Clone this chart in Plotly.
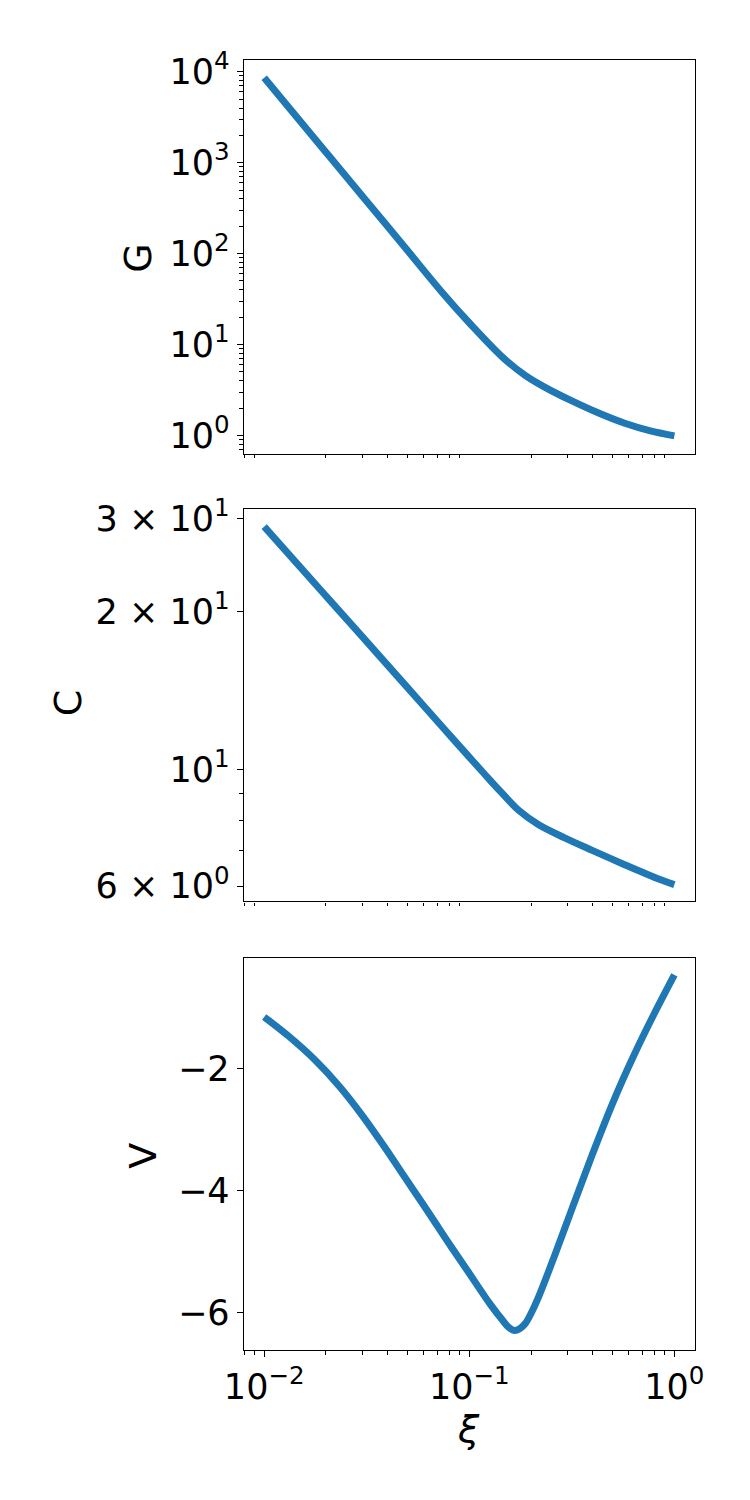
import plotly.graph_objects as go

# ---- data ----
xi_G = [0.01, 0.02, 0.03, 0.05, 0.0734, 0.102, 0.146, 0.188, 0.233, 0.311, 0.43, 0.573, 0.764, 1.0]
G = [8610, 1306, 434, 108, 37.9, 16.5, 7.18, 4.55, 3.40, 2.44, 1.75, 1.36, 1.12, 0.99]

xi_C = [0.01, 0.02, 0.03, 0.05, 0.0753, 0.1, 0.118, 0.141, 0.175, 0.217, 0.29, 0.40, 0.572, 0.82, 1.0]
C = [29.0, 21.4, 17.93, 14.32, 11.96, 10.56, 9.83, 9.11, 8.35, 7.86, 7.42, 7.01, 6.59, 6.21, 6.04]

xi_V = [0.01, 0.0132, 0.0176, 0.0234, 0.0301, 0.0387, 0.048, 0.0596, 0.0689, 0.0822,
        0.0986, 0.1267, 0.146, 0.156, 0.166, 0.176, 0.188, 0.200, 0.217, 0.26,
        0.316, 0.398, 0.501, 0.631, 0.794, 1.0]
V = [-1.15, -1.47, -1.85, -2.30, -2.77, -3.29, -3.76, -4.23, -4.55, -4.94,
     -5.33, -5.87, -6.14, -6.25, -6.30, -6.27, -6.18, -6.02, -5.76, -5.08,
     -4.31, -3.41, -2.56, -1.80, -1.11, -0.46]

# ---- tick labels ----
x_major = [0.01, 0.1, 1]
x_major_text = ["10<sup>−2</sup>", "10<sup>−1</sup>", "10<sup>0</sup>"]
x_minor = [0.008, 0.009] + [k * 0.01 for k in range(2, 10)] + [k * 0.1 for k in range(2, 10)]

G_major = [1, 10, 100, 1000, 10000]
G_major_text = ["10<sup>0</sup>", "10<sup>1</sup>", "10<sup>2</sup>", "10<sup>3</sup>", "10<sup>4</sup>"]
G_minor = [0.7, 0.8, 0.9] + [k * d for d in (1, 10, 100, 1000) for k in range(2, 10)]

C_major = [6, 10, 20, 30]
C_major_text = ["6 × 10<sup>0</sup>", "10<sup>1</sup>", "2 × 10<sup>1</sup>", "3 × 10<sup>1</sup>"]
C_minor = [7, 8, 9]

V_major = [-6, -4, -2]
V_major_text = ["−6", "−4", "−2"]

W, H = 750, 1500
BLUE = "#1f77b4"
FONT = "DejaVu Sans"
TICKFONT = dict(family=FONT, size=35, color="black")
LW = 1.25

fig = go.Figure()
for xs, ys, xa, ya_ in ((xi_G, G, "x", "y"), (xi_C, C, "x2", "y2"), (xi_V, V, "x3", "y3")):
    fig.add_trace(go.Scatter(x=xs, y=ys, mode="lines", xaxis=xa, yaxis=ya_,
                             line=dict(color=BLUE, width=7, shape="spline", smoothing=0.9),
                             showlegend=False, hoverinfo="skip"))

xdom = [233 / W, 703 / W]
def ydom(top, bot):
    return [1 - bot / H, 1 - top / H]

minor_x = dict(tickmode="array", tickvals=x_minor, ticks="outside", ticklen=3.5,
               tickwidth=1, tickcolor="black")

common_axis = dict(showline=True, linecolor="black", linewidth=LW, mirror=True,
                   showgrid=False, zeroline=False, tickfont=TICKFONT,
                   tickcolor="black", tickwidth=LW, ticklen=6, fixedrange=True)

def xaxis(anchor, labels):
    d = dict(common_axis)
    d.update(domain=xdom, anchor=anchor, type="log", range=[-2.1, 0.1],
             minor=minor_x)
    if labels:
        d.update(tickmode="array", tickvals=x_major, ticktext=x_major_text,
                 ticks="outside", showticklabels=True)
    else:
        d.update(tickmode="array", tickvals=x_major, ticks="", showticklabels=False)
    return d

layout = dict(
    width=W, height=H,
    margin=dict(l=0, r=0, t=0, b=0),
    paper_bgcolor="white", plot_bgcolor="white",
    font=dict(family=FONT, color="black"),
    xaxis=xaxis("y", False),
    xaxis2=xaxis("y2", False),
    xaxis3=xaxis("y3", True),
)

ya = dict(common_axis)
ya.update(domain=ydom(45, 444), anchor="x", type="log", range=[-0.202, 4.126],
          tickmode="array", tickvals=G_major, ticktext=G_major_text, ticks="outside",
          minor=dict(tickmode="array", tickvals=G_minor, ticks="outside", ticklen=3.5,
                     tickwidth=1, tickcolor="black"))
layout["yaxis"] = ya

ya2 = dict(common_axis)
ya2.update(domain=ydom(500, 898), anchor="x2", type="log", range=[0.749, 1.496],
           tickmode="array", tickvals=C_major, ticktext=C_major_text, ticks="outside",
           minor=dict(tickmode="array", tickvals=C_minor, ticks="outside", ticklen=3.5,
                      tickwidth=1, tickcolor="black"))
layout["yaxis2"] = ya2

ya3 = dict(common_axis)
ya3.update(domain=ydom(955, 1353), anchor="x3", range=[-6.62, -0.176],
           tickmode="array", tickvals=V_major, ticktext=V_major_text, ticks="outside")
layout["yaxis3"] = ya3

fig.update_layout(**layout)

LABELFONT = dict(family=FONT, size=38, color="black")
def label(text, px, py, angle):
    fig.add_annotation(text=text, x=px / W, y=1 - py / H, xref="paper", yref="paper",
                       showarrow=False, textangle=angle, font=LABELFONT,
                       xanchor="center", yanchor="middle")

label("G", 122, 246, -90)
label("C", 50, 697, -90)
label("V", 128, 1156, -90)
label("<i>ξ</i>", 467, 1433, 0)

fig.write_html("out.html", config={"displayModeBar": False},
               post_script="document.body.style.margin='0px';")
